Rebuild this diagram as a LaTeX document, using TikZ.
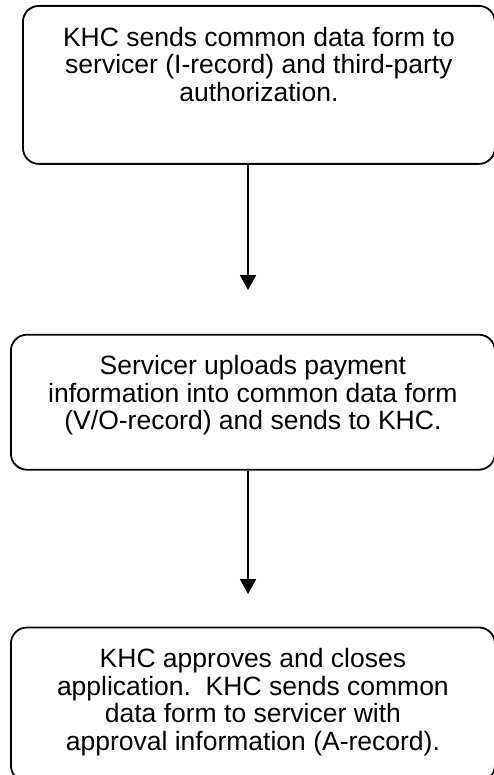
\documentclass[tikz,border=0pt]{standalone}
\usepackage{fontspec}
\setmainfont{Liberation Sans}
\usetikzlibrary{positioning,arrows.meta}

% text of one step, set at the top of its box
\newcommand{\boxtext}[3]{\parbox[t][#2][t]{#1}{\centering\fontsize{26.5pt}{27.5pt}\selectfont\vspace*{21pt}#3\par}}

\begin{document}
\begin{tikzpicture}[x=1pt,y=-1pt,
    stepbox/.style={draw, rounded corners=16pt, line width=1.8pt, inner sep=0pt},
    flow/.style={line width=2pt, -{Triangle[width=16pt,length=15pt]}}]
  \useasboundingbox (0,0) rectangle (493,775);
  \node[stepbox, anchor=north west] (send) at (22,5)
    {\boxtext{472pt}{158pt}{KHC sends common data form to\\ servicer (I-record) and third-party\\ authorization.}};
  \node[stepbox, below=169pt of send, xshift=-6pt] (upload)
    {\boxtext{484pt}{135pt}{Servicer uploads payment\\ information into common data form\\ (V/O-record) and sends to KHC.}};
  \node[stepbox, below=156pt of upload] (approve)
    {\boxtext{484pt}{154pt}{KHC approves and closes\\ application.\ \ KHC sends common\\ data form to servicer with\\ approval information (A-record).}};
  \coordinate (tip1) at (248,290);
  \coordinate (tip2) at (248,594);
  \draw[flow] (send.south -| tip1) -- (tip1);
  \draw[flow] (upload.south -| tip2) -- (tip2);
\end{tikzpicture}
\end{document}
